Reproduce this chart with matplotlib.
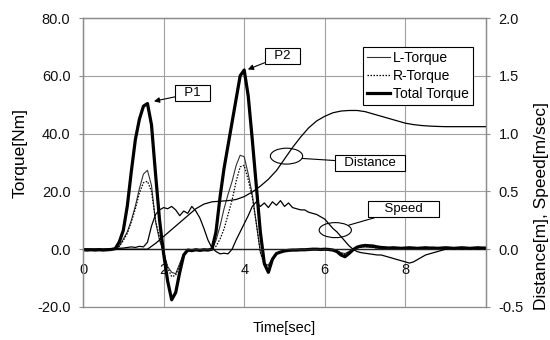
import numpy as np
import matplotlib
matplotlib.use("Agg")
import matplotlib.pyplot as plt
from matplotlib.patches import Ellipse
from matplotlib.ticker import FormatStrFormatter

plt.rcParams['font.family'] = ['Liberation Sans', 'DejaVu Sans']

# ---------------- data ----------------
# common time grid for torque / speed samples [sec]
t = np.round(np.arange(0, 10.001, 0.1), 1)

total_torque = [
    -0.2, -0.3, -0.2, -0.3, -0.2, -0.3, -0.2, -0.1, 0.2, 2.5,      # 0.0-0.9
    6.5, 15, 27, 38, 45, 49.5, 50.4, 43, 26, 10,                  # 1.0-1.9
    -1.5, -11, -17.5, -15, -8, -2, -0.3, -0.5, -0.2, -0.4,        # 2.0-2.9
    -0.2, -0.3, 0.0, 6, 18, 28, 36, 44, 52, 60,                   # 3.0-3.9
    62, 53, 38, 22, 6, -5, -8, -3.5, -1.5, -1.0,                  # 4.0-4.9
    -0.6, -0.4, -0.3, -0.3, -0.2, -0.2, -0.1, 0.0, 0.0, -0.1,     # 5.0-5.9
    0.0, -0.1, -0.3, -0.8, -2.0, -2.6, -1.5, -0.2, 0.7, 1.1,      # 6.0-6.9
    1.3, 1.2, 1.1, 0.8, 0.6, 0.5, 0.4, 0.5, 0.4, 0.3,             # 7.0-7.9
    0.4, 0.5, 0.4, 0.3, 0.4, 0.5, 0.4, 0.4, 0.3, 0.4,             # 8.0-8.9
    0.5, 0.4, 0.3, 0.4, 0.5, 0.4, 0.3, 0.4, 0.5, 0.4,             # 9.0-9.9
    0.4]                                                           # 10.0

l_torque = [
    -0.1, -0.2, -0.1, -0.2, -0.1, -0.2, -0.1, 0.0, 0.1, 1.0,
    3.5, 6, 10, 15, 21, 26, 27.3, 22, 9.5, 3,
    -1, -6, -8, -8.5, -5, -1.5, -0.2, -0.3, -0.1, -0.2,
    -0.1, -0.2, 0.0, 3, 8, 14, 19, 23.5, 29, 32.5,
    32, 26, 19, 9, -1, -5, -5.5, -3, -1.5, -0.8,
    -0.5, -0.3, -0.2, -0.2, -0.1, -0.1, 0.0, -0.1, 0.0, -0.1,
    0.0, -0.1, -0.2, -0.5, -1.2, -1.5, -0.8, 0.0, 0.5, 0.7,
    0.8, 0.7, 0.6, 0.4, 0.3, 0.2, 0.2, 0.3, 0.2, 0.2,
    0.2, 0.3, 0.2, 0.2, 0.2, 0.3, 0.2, 0.2, 0.1, 0.2,
    0.3, 0.2, 0.2, 0.2, 0.3, 0.2, 0.2, 0.2, 0.3, 0.2,
    0.2]

r_torque = [
    -0.1, -0.1, -0.2, -0.1, -0.2, -0.1, -0.1, 0.0, 0.1, 1.0,
    3, 5.5, 9.5, 14, 19.5, 23, 23.5, 20, 10, 4,
    -1, -6.5, -9.5, -9, -5.5, -1.5, -0.2, -0.2, -0.1, -0.2,
    -0.1, -0.1, 0.0, 1, 3.5, 7, 12, 17, 23.5, 28.5,
    29, 24, 18, 9, -1, -5.5, -6, -3.5, -1.5, -1.0,
    -0.5, -0.3, -0.2, -0.1, -0.1, -0.1, 0.0, -0.1, 0.0, -0.1,
    0.0, -0.1, -0.2, -0.6, -1.4, -1.8, -1.0, -0.1, 0.5, 0.8,
    0.9, 0.8, 0.6, 0.4, 0.3, 0.2, 0.2, 0.2, 0.3, 0.2,
    0.2, 0.2, 0.3, 0.2, 0.2, 0.2, 0.3, 0.2, 0.2, 0.2,
    0.2, 0.3, 0.2, 0.2, 0.2, 0.3, 0.2, 0.2, 0.2, 0.3,
    0.2]

speed = [
    0.0, 0.003, -0.003, 0.0, 0.002, -0.002, 0.0, 0.003, 0.005, 0.008,
    0.01, 0.015, 0.02, 0.015, 0.025, 0.02, 0.06, 0.2, 0.3, 0.34,
    0.36, 0.35, 0.37, 0.34, 0.29, 0.33, 0.31, 0.37, 0.33, 0.27,
    0.18, 0.08, 0.01, -0.02, -0.04, -0.035, -0.04, 0.0, 0.08, 0.15,
    0.22, 0.29, 0.37, 0.41, 0.37, 0.40, 0.36, 0.41, 0.38, 0.42,
    0.37, 0.40, 0.36, 0.35, 0.34, 0.34, 0.32, 0.31, 0.30, 0.28,
    0.26, 0.22, 0.18, 0.15, 0.11, 0.07, 0.03, 0.0, -0.02, -0.03,
    -0.035, -0.04, -0.045, -0.05, -0.05, -0.06, -0.07, -0.08, -0.09, -0.10,
    -0.11, -0.12, -0.11, -0.09, -0.07, -0.05, -0.04, -0.03, -0.02, -0.01,
    0.0, 0.005, 0.0, 0.005, 0.0, 0.005, 0.0, 0.005, 0.0, 0.005,
    0.0]

t_dist = [0.0, 1.6, 1.8, 2.0, 2.2, 2.4, 2.6, 2.8, 3.0, 3.2, 3.4, 3.6, 3.8,
          4.0, 4.2, 4.4, 4.6, 4.8, 5.0, 5.2, 5.4, 5.6, 5.8, 6.0, 6.2, 6.4,
          6.6, 6.8, 7.0, 7.2, 7.4, 7.6, 7.8, 8.0, 8.2, 8.4, 8.6, 8.8, 9.0, 10.0]
distance = [0.0, 0.0, 0.05, 0.11, 0.17, 0.23, 0.29, 0.35, 0.39, 0.41, 0.415,
            0.42, 0.43, 0.455, 0.495, 0.545, 0.605, 0.68, 0.78, 0.88, 0.97,
            1.05, 1.11, 1.15, 1.18, 1.195, 1.2, 1.2, 1.19, 1.17, 1.15, 1.13,
            1.11, 1.09, 1.078, 1.07, 1.065, 1.062, 1.06, 1.06]

x_ticks = [0, 2, 4, 6, 8]
x_ticklabels = ['0', '2', '4', '6', '8']
y_left_ticks = [-20, 0, 20, 40, 60, 80]
y_right_ticks = [-0.5, 0.0, 0.5, 1.0, 1.5, 2.0]

# ---------------- figure ----------------
fig = plt.figure(figsize=(5.5, 3.4), dpi=100)
ax = fig.add_axes([83 / 550, 33 / 340, 403 / 550, 289 / 340])
ax2 = ax.twinx()

GRID = '#a0a0a0'
SPINE = '#8c8c8c'

ax.set_xlim(0, 10)
ax.set_ylim(-20, 80)
ax2.set_ylim(-0.5, 2.0)

ax.set_axisbelow(True)
ax.set_xticks(x_ticks)
ax.set_xticklabels(x_ticklabels)
ax.set_yticks(y_left_ticks)
ax2.set_yticks(y_right_ticks)
ax.yaxis.set_major_formatter(FormatStrFormatter('%.1f'))
ax2.yaxis.set_major_formatter(FormatStrFormatter('%.1f'))
ax.grid(True, color=GRID, lw=0.8)

for s in ax.spines.values():
    s.set_color(SPINE)
    s.set_linewidth(0.9)
for s in ax2.spines.values():
    s.set_color(SPINE)
    s.set_linewidth(0.9)
ax.spines['bottom'].set_position(('data', 0))
ax.spines['bottom'].set_color('#222222')
ax.spines['bottom'].set_linewidth(1.0)

ax.tick_params(axis='y', direction='out', length=3, color=SPINE, pad=6,
               labelsize=10.5, labelcolor='#111111')
ax.tick_params(axis='x', length=0, pad=10, labelsize=10.5, labelcolor='#111111')
ax2.tick_params(axis='y', direction='out', length=3, color=SPINE, pad=6,
                labelsize=10.5, labelcolor='#111111')

# torque curves
lL, = ax.plot(t, l_torque, color='#333333', lw=0.8, label='L-Torque')
lR, = ax.plot(t, r_torque, color='black', lw=0.9, ls=(0, (1.2, 1.2)), label='R-Torque')
lT, = ax.plot(t, total_torque, color='black', lw=2.3, label='Total Torque')

# distance / speed
ax2.plot(t_dist, distance, color='black', lw=0.9)
ax2.plot(t, speed, color='black', lw=0.9)

# labels
ax.set_xlabel('Time[sec]', fontsize=10.5)
ax.xaxis.set_label_coords(0.5, -0.05)
ax.set_ylabel('Torque[Nm]', fontsize=12.5)
ax.yaxis.set_label_coords(-0.1365, 0.533)
ax2.set_ylabel('Distance[m], Speed[m/sec]', fontsize=12.5)
ax2.yaxis.set_label_coords(1.12, 0.349)

# legend
leg = ax.legend(handles=[lL, lR, lT], loc='upper right',
                bbox_to_anchor=(0.968, 0.9), borderaxespad=0, fontsize=10,
                frameon=True, fancybox=False, framealpha=1, edgecolor='black',
                handlelength=1.7, handletextpad=0.2, labelspacing=0.28,
                borderpad=0.3)
leg.get_frame().set_linewidth(0.8)

# annotations
box = dict(boxstyle='square,pad=0.15', fc='white', ec='black', lw=0.8)
arrow = dict(arrowstyle='-|>', color='black', lw=0.8, mutation_scale=8,
             shrinkA=0, shrinkB=0)
ax.annotate('  P1  ', xy=(1.76, 51.2), xytext=(2.725, 54), ha='center',
            va='center', fontsize=9.5, bbox=box, arrowprops=arrow)
ax.annotate('  P2  ', xy=(4.09, 62.2), xytext=(4.95, 67), ha='center',
            va='center', fontsize=9.5, bbox=box, arrowprops=arrow)

ax.add_patch(Ellipse((5.05, 32.2), width=0.8, height=5.5, fill=False,
                     ec='black', lw=0.8))
ax.add_patch(Ellipse((6.26, 6.6), width=0.8, height=5.2, fill=False,
                     ec='black', lw=0.8))
line = dict(arrowstyle='-', color='black', lw=0.8, shrinkA=0, shrinkB=0)
ax.annotate('  Distance  ', xy=(5.44, 31.4), xytext=(7.125, 29.9),
            ha='center', va='center', fontsize=9.5, bbox=box, arrowprops=line)
ax.annotate('    Speed    ', xy=(6.59, 8.3), xytext=(7.96, 13.8),
            ha='center', va='center', fontsize=9.5, bbox=box, arrowprops=line)

fig.savefig('out.png', dpi=100)
